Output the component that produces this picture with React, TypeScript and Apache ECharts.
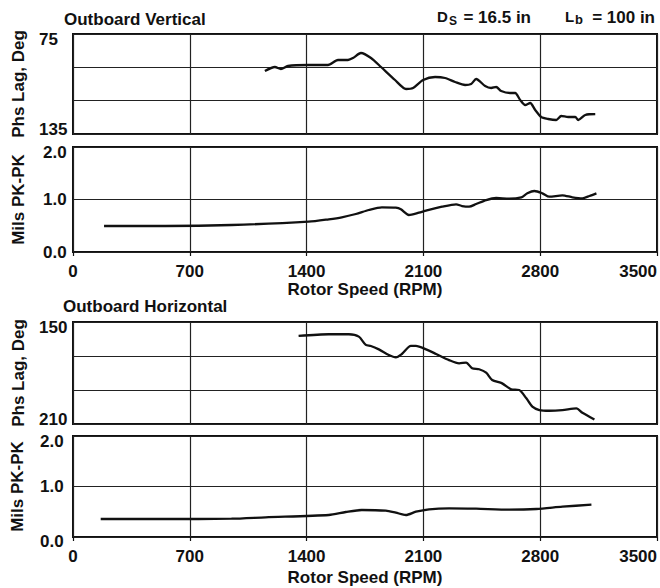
import React, { useEffect, useRef } from 'react';
import * as echarts from 'echarts';

// X axis (rotor speed) ticks
const rpmMin = 0;
const rpmMax = 3500;
const rpmStep = 700;

// Outboard Vertical – phase lag (deg)
const vertPhaseRpm = [1150, 1210, 1246, 1288, 1408, 1528, 1588, 1648, 1678, 1726, 1786, 1846, 1930, 1996, 2038, 2098, 2170, 2230, 2290, 2350, 2386, 2416, 2470, 2506, 2536, 2566, 2620, 2650, 2680, 2710, 2740, 2770, 2806, 2848, 2896, 2926, 2968, 3010, 3028, 3070, 3130];
const vertPhaseDeg = [97.2, 94.8, 96, 94.2, 93.6, 93.6, 90.6, 90.6, 89.4, 86.4, 89.4, 94.8, 102.6, 108, 107.4, 102.6, 100.8, 101.4, 103.8, 105.6, 105, 102, 106.2, 107.4, 106.8, 109.2, 110.4, 110.4, 114.6, 117.6, 116.4, 120.6, 124.8, 126, 126.6, 124.2, 124.8, 124.8, 126.6, 123.6, 123];

// Outboard Vertical – amplitude (mils pk-pk)
const vertAmpRpm = [186, 553, 950, 1412, 1533, 1611, 1695, 1773, 1851, 1935, 1965, 2013, 2073, 2116, 2212, 2296, 2332, 2374, 2416, 2476, 2536, 2614, 2687, 2723, 2765, 2813, 2855, 2933, 2993, 3053, 3095, 3137];
const vertAmpMils = [0.495, 0.495, 0.514, 0.577, 0.623, 0.661, 0.724, 0.8, 0.851, 0.844, 0.813, 0.705, 0.749, 0.787, 0.863, 0.909, 0.876, 0.863, 0.914, 0.99, 1.029, 1.015, 1.042, 1.118, 1.162, 1.118, 1.053, 1.08, 1.042, 1.023, 1.067, 1.118];

// Outboard Horizontal – phase lag (deg)
const horPhaseRpm = [1352, 1533, 1653, 1713, 1755, 1785, 1833, 1893, 1935, 1971, 2025, 2055, 2116, 2176, 2254, 2314, 2356, 2392, 2434, 2476, 2512, 2572, 2626, 2674, 2717, 2753, 2795, 2855, 2933, 3017, 3053, 3125];
const horPhaseDeg = [158.2, 157.2, 157.2, 158.6, 163.5, 164.1, 166.1, 169.4, 170.8, 168.8, 164.1, 164.1, 166.1, 168.8, 172.4, 174.3, 173.9, 177.2, 177.8, 179.8, 184.1, 186.1, 189.6, 190, 194.9, 199.8, 201.8, 202.2, 201.8, 200.8, 203.4, 207.3];

// Outboard Horizontal – amplitude (mils pk-pk)
const horAmpRpm = [166, 553, 950, 1154, 1533, 1635, 1731, 1875, 1935, 1995, 2055, 2134, 2254, 2416, 2614, 2777, 2933, 3107];
const horAmpMils = [0.356, 0.356, 0.362, 0.39, 0.436, 0.495, 0.535, 0.521, 0.481, 0.436, 0.501, 0.549, 0.568, 0.56, 0.541, 0.554, 0.6, 0.64];

const FONT = "'Liberation Sans', Arial, Helvetica, sans-serif";
const INK = '#111';

const pairs = (xs: number[], ys: number[]) => xs.map((x, i) => [x, ys[i]]);

export default function App() {
  const ref = useRef<HTMLDivElement>(null);

  useEffect(() => {
    document.body.style.margin = '0';
    if (!ref.current) return;
    const chart = echarts.init(ref.current, undefined, { renderer: 'svg' });

    const base = { fontFamily: FONT, fontWeight: 'bold' as const, fontSize: 17, color: INK };

    const grids = [
      { top: 34, height: 100 },
      { top: 147, height: 105 },
      { top: 322, height: 102 },
      { top: 436, height: 101 },
    ].map((g) => ({
      left: 73,
      width: 584,
      top: g.top,
      height: g.height,
      show: true,
      borderColor: INK,
      borderWidth: 2,
      backgroundColor: '#fff',
      containLabel: false,
      outerBoundsMode: 'none',
    }));

    const xAxes = [0, 1, 2, 3].map((i) => {
      const labelled = i === 1 || i === 3;
      return {
        type: 'value',
        gridIndex: i,
        min: rpmMin,
        max: rpmMax,
        interval: rpmStep,
        axisLine: { show: false },
        axisTick: { show: labelled, length: 4, lineStyle: { color: INK, width: 1.2 } },
        splitLine: { show: true, lineStyle: { color: '#222', width: 1.2 } },
        axisLabel: {
          show: labelled,
          margin: 11,
          alignMaxLabel: 'right',
          formatter: (v: number) => String(v),
          ...base,
        },
        name: labelled ? 'Rotor Speed (RPM)' : '',
        nameLocation: 'middle',
        nameGap: i === 1 ? 29 : 32,
        nameTextStyle: { ...base },
      };
    });

    const phaseAxis = (i: number, lo: number, hi: number) => ({
      type: 'value',
      gridIndex: i,
      min: lo,
      max: hi,
      interval: 20,
      inverse: true,
      axisLine: { show: false },
      axisTick: { show: false },
      splitLine: { show: true, lineStyle: { color: '#222', width: 1.2 } },
      axisLabel: {
        align: 'left',
        margin: 34,
        ...base,
        formatter: (v: number) => (v === lo ? `{t|${v}}` : v === hi ? `{b|${v}}` : ''),
        rich: {
          t: { ...base, padding: [10, 0, 0, 0] },
          b: { ...base, padding: [0, 0, 10, 0] },
        },
      },
      name: 'Phs Lag, Deg',
      nameLocation: 'middle',
      nameGap: 46,
      nameTextStyle: { ...base },
    });

    const milsAxis = (i: number, margin: number, zeroShift: number) => ({
      type: 'value',
      gridIndex: i,
      min: 0,
      max: 2,
      interval: 1,
      axisLine: { show: false },
      axisTick: { show: false },
      splitLine: { show: true, lineStyle: { color: '#222', width: 1.2 } },
      axisLabel: {
        align: 'left',
        margin,
        ...base,
        formatter: (v: number) => (v === 2 ? '{t|2.0}' : v === 0 ? '{z|0.0}' : '{m|1.0}'),
        rich: {
          t: { ...base, padding: [10, 0, 0, 0] },
          m: { ...base },
          z: { ...base, padding: [zeroShift, 0, 0, 0] },
        },
      },
      name: 'Mils PK-PK',
      nameLocation: 'middle',
      nameGap: i === 1 ? 46 : 47,
      nameTextStyle: { ...base },
    });

    const yAxes = [phaseAxis(0, 75, 135), milsAxis(1, 30, 0), phaseAxis(2, 150, 210), milsAxis(3, 33, 9)];

    const line = (i: number, data: number[][]) => ({
      type: 'line',
      xAxisIndex: i,
      yAxisIndex: i,
      data,
      showSymbol: false,
      smooth: 0.25,
      lineStyle: { color: INK, width: 2.3 },
    });

    const ttl = (text: string, pos: Record<string, number>, size: number) => ({
      text,
      ...pos,
      padding: 0,
      itemGap: 0,
      textStyle: { ...base, fontSize: size, lineHeight: size },
    });

    chart.setOption({
      animation: false,
      backgroundColor: '#fff',
      title: [
        ttl('Outboard Vertical', { left: 64, top: 11 }, 17),
        ttl('Outboard Horizontal', { left: 63, top: 297.5 }, 17),
        ttl('D', { left: 437, top: 9 }, 15),
        ttl('S', { left: 449, top: 14.5 }, 12),
        ttl('= 16.5 in', { right: 129, top: 8.5 }, 17),
        ttl('L', { left: 565, top: 9 }, 15),
        ttl('b', { left: 575, top: 12.5 }, 13),
        ttl('= 100 in', { right: 5, top: 8.5 }, 17),
      ],
      grid: grids,
      xAxis: xAxes,
      yAxis: yAxes,
      series: [
        line(0, pairs(vertPhaseRpm, vertPhaseDeg)),
        line(1, pairs(vertAmpRpm, vertAmpMils)),
        line(2, pairs(horPhaseRpm, horPhaseDeg)),
        line(3, pairs(horAmpRpm, horAmpMils)),
      ],
    });

    return () => chart.dispose();
  }, []);

  return <div ref={ref} style={{ width: 660, height: 588 }} />;
}
